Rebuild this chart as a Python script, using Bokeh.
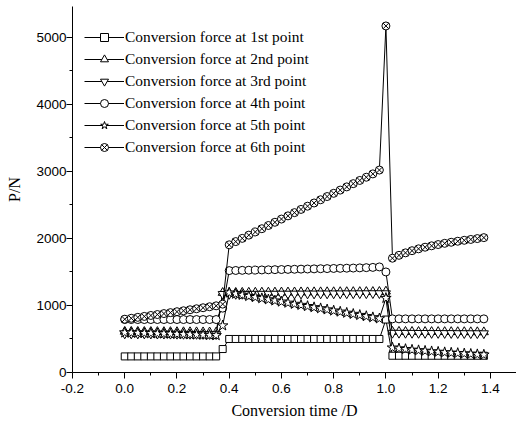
from bokeh.plotting import figure
from bokeh.models import FixedTicker, PrintfTickFormatter, Legend, LegendItem, ColumnDataSource
from bokeh.embed import file_html
from bokeh.resources import INLINE

# Conversion time in days
X_DAYS = [0.000, 0.025, 0.050, 0.075, 0.100, 0.125, 0.150, 0.175, 0.200, 0.225,
          0.250, 0.275, 0.300, 0.325, 0.350,
          0.375,
          0.400, 0.425, 0.450, 0.475, 0.500, 0.525, 0.550, 0.575, 0.600, 0.625,
          0.650, 0.675, 0.700, 0.725, 0.750, 0.775, 0.800, 0.825, 0.850, 0.875,
          0.900, 0.925, 0.950, 0.975,
          1.000,
          1.025, 1.050, 1.075, 1.100, 1.125, 1.150, 1.175, 1.200, 1.225, 1.250,
          1.275, 1.300, 1.325, 1.350, 1.375]

# Conversion force (N) at each of the six points
P1 = [240, 240, 240, 240, 240, 240, 240, 240, 240, 240, 240, 240, 240, 240, 240,
      350,
      500, 500, 500, 500, 500, 500, 500, 500, 500, 500, 500, 500, 500, 500, 500, 500,
      500, 500, 500, 500, 500, 500, 500, 500,
      790,
      250, 250, 250, 250, 250, 250, 250, 250, 250, 250, 250, 250, 250, 250, 250]

P2 = [610, 610, 609, 608, 608, 607, 606, 606, 605, 604, 604, 603, 602, 601, 600,
      1190,
      1190, 1191, 1192, 1193, 1194, 1195, 1195, 1196, 1197, 1197, 1198, 1199, 1199,
      1200, 1200, 1201, 1201, 1202, 1202, 1203, 1203, 1204, 1204, 1205,
      1210,
      610, 610, 609, 609, 608, 608, 607, 607, 606, 606, 605, 605, 604, 604, 603]

P3 = [580, 580, 579, 579, 578, 577, 577, 576, 575, 574, 574, 573, 572, 571, 570,
      1170,
      1170, 1170, 1171, 1171, 1172, 1172, 1173, 1173, 1174, 1174, 1175, 1175, 1176,
      1176, 1177, 1177, 1178, 1178, 1179, 1179, 1180, 1180, 1181, 1181,
      1180,
      590, 590, 589, 589, 588, 588, 587, 587, 586, 586, 585, 585, 584, 584, 583]

P4 = [790, 790, 790, 790, 790, 790, 790, 790, 790, 790, 790, 790, 790, 790, 790,
      960,
      1520, 1522, 1524, 1526, 1528, 1530, 1532, 1534, 1536, 1538, 1540, 1542, 1544,
      1546, 1548, 1550, 1552, 1554, 1556, 1558, 1561, 1564, 1568, 1575,
      1500,
      800, 800, 800, 800, 800, 800, 800, 800, 800, 800, 800, 800, 800, 800, 800]

P5 = [595, 592, 590, 587, 585, 582, 580, 577, 574, 571, 568, 565, 562, 558, 555,
      700,
      1190, 1173, 1156, 1139, 1123, 1106, 1089, 1072, 1056, 1039, 1022, 1006, 989,
      972, 956, 939, 922, 906, 889, 872, 856, 839, 822, 805,
      1110,
      370, 358, 348, 338, 330, 322, 314, 307, 300, 294, 288, 282, 276, 270, 265]

P6 = [795, 809, 823, 837, 851, 865, 879, 893, 907, 921, 936, 951, 966, 981, 995,
      1020,
      1905, 1953, 2001, 2049, 2097, 2145, 2193, 2241, 2289, 2337, 2385, 2433, 2481,
      2529, 2577, 2625, 2673, 2721, 2769, 2817, 2865, 2913, 2963, 3020,
      5170,
      1705, 1748, 1785, 1817, 1845, 1869, 1890, 1909, 1927, 1943, 1958, 1972, 1985,
      1998, 2012]

SERIES = [
    ("Conversion force at 1st point", P1, "square", 7),
    ("Conversion force at 2nd point", P2, "triangle", 9),
    ("Conversion force at 3rd point", P3, "inverted_triangle", 9),
    ("Conversion force at 4th point", P4, "circle", 8),
    ("Conversion force at 5th point", P5, "star", 11),
    ("Conversion force at 6th point", P6, "circle_x", 8),
]

X_TICKS = [-0.2, 0.0, 0.2, 0.4, 0.6, 0.8, 1.0, 1.2, 1.4]
X_MINOR = [-0.1, 0.1, 0.3, 0.5, 0.7, 0.9, 1.1, 1.3, 1.5]
Y_TICKS = [0, 1000, 2000, 3000, 4000, 5000]
Y_MINOR = [500, 1500, 2500, 3500, 4500]

p = figure(width=516, height=430, x_range=(-0.2, 1.5), y_range=(0, 5460),
           output_backend="svg", toolbar_location=None,
           min_border_left=72, min_border_right=0, min_border_top=6, min_border_bottom=58)
p.outline_line_color = None
p.xgrid.visible = False
p.ygrid.visible = False
p.background_fill_color = "white"
p.border_fill_color = "white"

items = []
for label, ys, marker, size in SERIES:
    src = ColumnDataSource(dict(x=X_DAYS, y=ys))
    ln = p.line("x", "y", source=src, line_color="black", line_width=1)
    sc = p.scatter("x", "y", source=src, marker=marker, size=size,
                   fill_color="white", line_color="black", line_width=1)
    items.append(LegendItem(label=label, renderers=[ln, sc]))

legend = Legend(items=items, location=(12, 215))
legend.glyph_width = 40
legend.glyph_height = 20
legend.label_height = 20
legend.spacing = 2
legend.padding = 0
legend.margin = 0
legend.label_standoff = 1
legend.border_line_color = None
legend.background_fill_alpha = 0
legend.label_text_font = "Liberation Serif"
legend.label_text_font_size = "15.4px"
legend.label_text_color = "black"
p.add_layout(legend)

for ax in (p.xaxis[0], p.yaxis[0]):
    ax.axis_line_color = "black"
    ax.axis_line_width = 1
    ax.major_tick_line_color = "black"
    ax.minor_tick_line_color = "black"
    ax.major_tick_in = 0
    ax.major_tick_out = 6
    ax.minor_tick_in = 0
    ax.minor_tick_out = 3
    ax.major_label_text_font = "Liberation Sans"
    ax.major_label_text_font_size = "13.5px"
    ax.major_label_text_color = "black"
    ax.axis_label_text_font = "Liberation Serif"
    ax.axis_label_text_font_size = "16px"
    ax.axis_label_text_font_style = "normal"
    ax.axis_label_text_color = "black"

p.xaxis.ticker = FixedTicker(ticks=X_TICKS, minor_ticks=X_MINOR)
p.xaxis.formatter = PrintfTickFormatter(format="%.1f")
p.xaxis.axis_label = "Conversion time /D"
p.xaxis.major_label_standoff = 5
p.xaxis.axis_label_standoff = 6

p.yaxis.ticker = FixedTicker(ticks=Y_TICKS, minor_ticks=Y_MINOR)
p.yaxis.axis_label = "P/N"
p.yaxis.major_label_standoff = 0
p.yaxis.axis_label_standoff = 10

open("out.html", "w").write(file_html(p, INLINE))
